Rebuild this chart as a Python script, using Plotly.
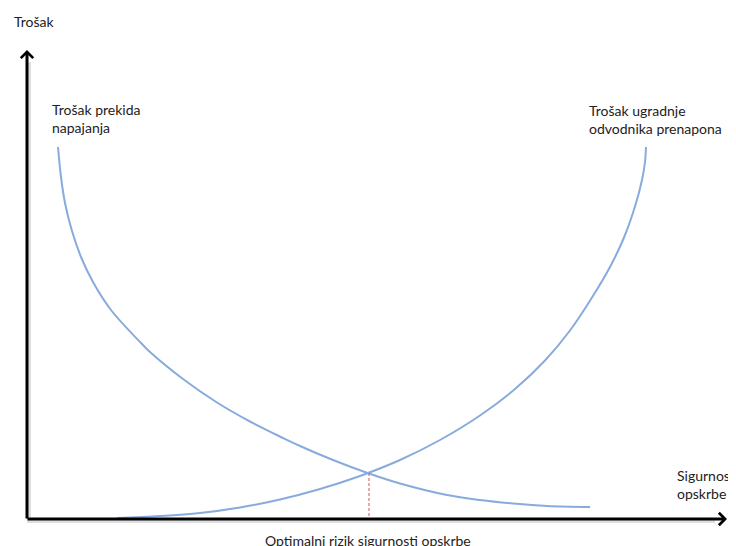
import plotly.graph_objects as go

# conceptual curves (x = security of supply, y = cost)
prekid_x = [31, 34, 38, 45, 54, 66, 84, 114, 123, 156, 190, 223, 256, 273, 306, 342, 373, 420, 453, 486, 520, 563]
prekid_y = [372, 342, 316, 288, 262, 237, 209, 176, 167, 140, 116.5, 97.5, 81, 73, 59, 45.5, 35.5, 24, 19, 15.5, 13, 12]

ugradnja_x = [90, 133, 173, 213, 253, 293, 333, 373, 413, 453, 488, 518, 543, 565, 583, 597, 608, 615, 618, 619]
ugradnja_y = [1, 3, 6, 11.5, 19.5, 30, 43, 59, 79, 103.5, 130, 158.5, 188.5, 221.5, 252, 281.5, 312.5, 339, 357, 372]

optimum_x = 342
optimum_y = 46

x_max = 700
y_max = 469

blue = "#88abdd"
font = dict(family="Lato, Open Sans, sans-serif", size=14, color="#222222")

fig = go.Figure()

# faint shadow under the axes
fig.add_trace(go.Scatter(x=[2, 2, x_max - 12], y=[y_max - 12, -2, -2], mode="lines",
                         line=dict(color="rgba(0,0,0,0.13)", width=4)))

fig.add_trace(go.Scatter(x=prekid_x, y=prekid_y, mode="lines",
                         line=dict(color=blue, width=2, shape="spline", smoothing=1)))
fig.add_trace(go.Scatter(x=ugradnja_x, y=ugradnja_y, mode="lines",
                         line=dict(color=blue, width=2, shape="spline", smoothing=1)))
# dashed drop line at the optimum
fig.add_trace(go.Scatter(x=[optimum_x, optimum_x], y=[optimum_y, 0], mode="lines",
                         line=dict(color="#d9534f", width=1, dash="3px,2px")))

# axes with arrows
for tip, start in [((0, y_max), (0, -1)), ((x_max, 0), (-1, 0))]:
    fig.add_annotation(x=tip[0], y=tip[1], ax=start[0], ay=start[1],
                       xref="x", yref="y", axref="x", ayref="y",
                       text="", showarrow=True, arrowhead=4, arrowsize=0.8,
                       arrowwidth=3, arrowcolor="black")

labels = [
    ("Trošak", -15, 498),
    ("Trošak prekida<br>napajanja", 23, 401),
    ("Trošak ugradnje<br>odvodnika prenapona", 560, 400),
    ("Sigurnost<br>opskrbe", 648, 35),
    ("Optimalni rizik sigurnosti opskrbe", 236, -21),
]
for txt, lx, ly in labels:
    fig.add_annotation(x=lx, y=ly, xref="x", yref="y", text=txt, showarrow=False,
                       xanchor="left", yanchor="middle", align="left", font=font)

# page body has an 8px margin, so the figure covers the picture from (8, 8)
fig.update_xaxes(range=[-19, 709], visible=False)
fig.update_yaxes(range=[-27, 511], visible=False)
fig.update_layout(width=728, height=538, margin=dict(l=0, r=0, t=0, b=0),
                  plot_bgcolor="white", paper_bgcolor="white",
                  showlegend=False, hovermode=False)

fig.write_html("out.html")
